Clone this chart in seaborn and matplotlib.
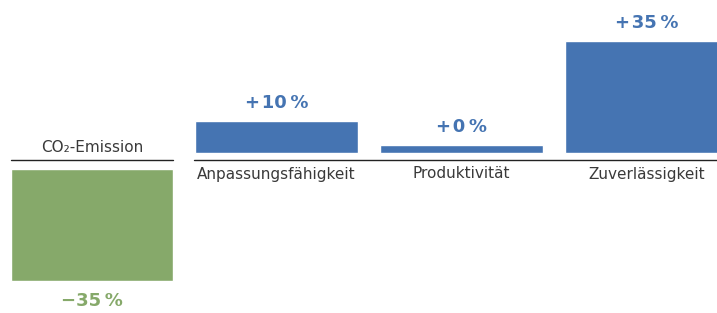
import matplotlib
matplotlib.use("Agg")
import matplotlib.pyplot as plt
import seaborn as sns
import pandas as pd

# data
left_cat = ["CO\u2082-Emission"]
left_vals = [-35]
left_labels = ["\u221235\u2009%"]

right_cat = ["Anpassungsfähigkeit", "Produktivität", "Zuverlässigkeit"]
right_vals = [10, 2.5, 35]   # the 0 % bar is drawn as a thin sliver
right_labels = ["+\u200a10\u2009%", "+\u200a0\u2009%", "+\u200a35\u2009%"]

blue = "#4574B2"
green = "#86A96A"
text_gray = "#3a3a3a"

sns.set_style("white")
plt.rcParams["font.family"] = ["DejaVu Sans"]

W, H = 717, 313
px_per_unit = 3.2

fig = plt.figure(figsize=(W / 100, H / 100), dpi=100)

# left panel: emission bar hanging below its own baseline
ax_l = fig.add_axes([0, 0, 184 / W, 1])
df_l = pd.DataFrame({"cat": left_cat, "val": left_vals})
sns.barplot(data=df_l, x="cat", y="val", color=green, saturation=1, width=0.88, ax=ax_l)
ax_l.set_xlim(-0.5, 0.5)
ax_l.set_ylim(-(H - 169) / px_per_unit, 169 / px_per_unit)
ax_l.axhline(9 / px_per_unit, xmin=11 / 184, xmax=173 / 184, color="#222222", lw=1.0)
ax_l.axis("off")
for i, (v, lab) in enumerate(zip(left_vals, left_labels)):
    ax_l.annotate(lab, xy=(i, v), xytext=(0, -20), textcoords="offset pixels",
                  ha="center", va="center", fontsize=13, fontweight="bold", color=green)
    ax_l.annotate(left_cat[i], xy=(i, 0), xytext=(0, 22), textcoords="offset pixels",
                  ha="center", va="center", fontsize=11, color=text_gray)

# right panel: improvements
ax_r = fig.add_axes([184 / W, 0, (W - 184) / W, 1])
df_r = pd.DataFrame({"cat": right_cat, "val": right_vals})
sns.barplot(data=df_r, x="cat", y="val", color=blue, saturation=1, width=0.88, ax=ax_r)
ax_r.set_xlim(-0.5, (W - 184) / 185 - 0.5)
ax_r.set_ylim(-(H - 153) / px_per_unit, 153 / px_per_unit)
ax_r.axhline(-7 / px_per_unit, xmin=10 / (W - 184), xmax=1, color="#222222", lw=1.0)
ax_r.axis("off")
for i, (v, lab) in enumerate(zip(right_vals, right_labels)):
    ax_r.annotate(lab, xy=(i, v), xytext=(0, 18), textcoords="offset pixels",
                  ha="center", va="center", fontsize=13, fontweight="bold", color=blue)
    ax_r.annotate(right_cat[i], xy=(i, 0), xytext=(0, -21), textcoords="offset pixels",
                  ha="center", va="center", fontsize=11, color=text_gray)

fig.savefig("out.png", dpi=100)
